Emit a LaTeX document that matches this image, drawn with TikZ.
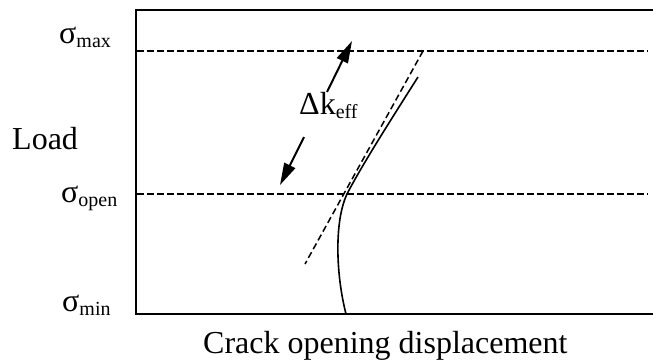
\documentclass[tikz,border=0pt]{standalone}
\usepackage{fontspec}
\setmainfont{Liberation Serif}
\usetikzlibrary{arrows.meta}
\newcommand{\subtxt}[1]{\raisebox{-4.5pt}{\fontsize{20}{20}\selectfont #1}}
\tikzset{
  lbl/.style={font=\fontsize{32}{32}\selectfont, inner sep=0pt},
  axis/.style={line width=2.2pt},
  guide/.style={line width=1.5pt, dash pattern=on 6.5pt off 3.5pt},
  curve/.style={line width=1.6pt},
  bigarrow/.style={line width=2pt, arrows={-Triangle[length=22pt,width=12pt]}}
}
\begin{document}
\begin{tikzpicture}[x=1pt,y=-1pt]
\useasboundingbox (0,0) rectangle (653,360);
% axes
\coordinate (tr) at (653,10);
\coordinate (tl) at (136,10);
\coordinate (bl) at (136,314);
\coordinate (br) at (653,314);
\draw[axis] (tr) -- (tl) -- (bl) -- (br);
% guide lines
\coordinate (maxL) at (137,51);
\coordinate (maxR) at (648,51);
\coordinate (openL) at (137,194);
\coordinate (openR) at (648,194);
\draw[guide] (maxL) -- (maxR);
\draw[guide] (openL) -- (openR);
% tangent
\coordinate (tanA) at (423,51);
\coordinate (tanB) at (305,264);
\draw[guide] (tanA) -- (tanB);
% curve
\coordinate (c0) at (346,314);
\coordinate (c1) at (347,194);
\coordinate (c2) at (418,77);
\draw[curve] (c0) .. controls (336,275) and (334,222) .. (c1)
  .. controls (362,165) and (392,118) .. (c2);
% arrows
\coordinate (a1s) at (327,92);
\coordinate (a1e) at (352,41);
\coordinate (a2s) at (304,137);
\coordinate (a2e) at (280,185);
\draw[bigarrow] (a1s) -- (a1e);
\draw[bigarrow] (a2s) -- (a2e);
% labels
\node[lbl, anchor=base west] (dk) at (299,114) {Δk\subtxt{eff}};
\node[lbl, anchor=base west] (smax) at (59,43) {σ\subtxt{max}};
\node[lbl, anchor=base west] (sopen) at (61,202) {σ\subtxt{open}};
\node[lbl, anchor=base west] (smin) at (62,311) {σ\subtxt{min}};
\node[lbl, anchor=base west] (load) at (12,149) {Load};
\node[lbl, anchor=base west] (xlab) at (203,353) {Crack opening displacement};
\end{tikzpicture}
\end{document}
